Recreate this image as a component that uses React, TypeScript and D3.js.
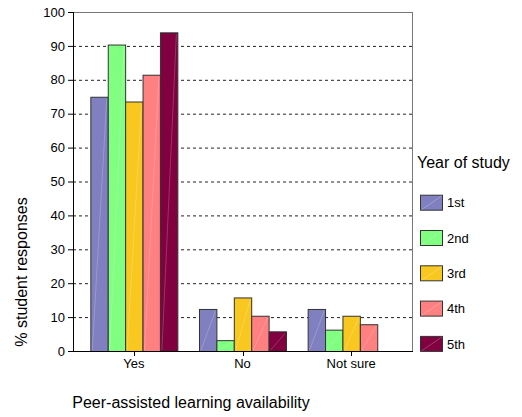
import React from "react";
import * as d3 from "d3";

const categories = ["Yes", "No", "Not sure"];
const years = ["1st", "2nd", "3rd", "4th", "5th"];
const year1 = [75, 12.4, 12.4];
const year2 = [90.4, 3.2, 6.3];
const year3 = [73.6, 15.8, 10.4];
const year4 = [81.5, 10.4, 7.9];
const year5 = [94, 5.8, 0];
const series = [year1, year2, year3, year4, year5];
const colors = ["#8080C0", "#80FF80", "#F8C820", "#FF8080", "#800040"];
const yTicks = [0, 10, 20, 30, 40, 50, 60, 70, 80, 90, 100];

const W = 522;
const H = 417;
const left = 73;
const right = 412;
const top = 12;
const bottom = 351;
const font = "'Liberation Sans', Arial, sans-serif";

export default function App() {
  const y = d3.scaleLinear().domain([0, 100]).range([bottom, top]);
  const x = d3.scalePoint<string>().domain(categories).range([left, right]).padding(0.56);
  const groupW = 87;
  const xi = d3.scaleBand<number>().domain(d3.range(years.length)).range([0, groupW]).padding(0);
  const bw = xi.bandwidth();

  const legendY0 = 202.7;
  const legendStep = 35.3;

  return (
    <svg width={W} height={H} style={{ position: "absolute", left: 0, top: 0, background: "#fff" }} fontFamily={font}>
      {/* gridlines */}
      {yTicks.filter((t) => t > 0 && t < 100).map((t) => (
        <line key={"g" + t} x1={left} x2={right} y1={y(t) + 0.5} y2={y(t) + 0.5} stroke="#222" strokeDasharray="3,3" />
      ))}
      {/* frame top/right */}
      <line x1={left} x2={right} y1={top + 0.5} y2={top + 0.5} stroke="#777" />
      <line x1={right + 0.5} x2={right + 0.5} y1={top} y2={bottom} stroke="#777" />
      {/* bars */}
      {categories.map((c, ci) =>
        series.map((s, si) => {
          const v = s[ci];
          if (v <= 0) return null;
          const bx = (x(c) as number) - groupW / 2 + (xi(si) as number);
          const by = y(v);
          const h = bottom - by;
          return (
            <g key={c + si}>
              <rect x={bx + 0.5} y={by + 0.5} width={bw} height={h} fill={colors[si]} stroke="#333" strokeWidth={1} />
              <line x1={bx + 2} y1={bottom - 1} x2={bx + bw - 1} y2={by + 2} stroke="#fff" strokeOpacity={0.25} strokeWidth={0.8} />
            </g>
          );
        })
      )}
      {/* y axis */}
      <line x1={left + 0.5} x2={left + 0.5} y1={top} y2={bottom + 1} stroke="#000" />
      {yTicks.map((t) => (
        <g key={"t" + t}>
          <line x1={left - 5} x2={left} y1={y(t) + 0.5} y2={y(t) + 0.5} stroke="#000" />
          <text x={65} y={y(t)} dy="0.36em" textAnchor="end" fontSize={13} fill="#000">
            {t}
          </text>
        </g>
      ))}
      {/* x axis */}
      <line x1={left} x2={right + 1} y1={bottom + 0.5} y2={bottom + 0.5} stroke="#000" />
      {categories.map((c) => (
        <g key={"c" + c}>
          <line x1={Math.round(x(c) as number) + 0.5} x2={Math.round(x(c) as number) + 0.5} y1={bottom} y2={bottom + 5} stroke="#000" />
          <text x={x(c) as number} y={363} dy="0.36em" textAnchor="middle" fontSize={13} fill="#000">
            {c}
          </text>
        </g>
      ))}
      {/* axis titles */}
      <text transform={`translate(21,272) rotate(-90)`} textAnchor="middle" dy="0.36em" fontSize={16} fill="#000">
        % student responses
      </text>
      <text x={191} y={402} dy="0.36em" textAnchor="middle" fontSize={16} fill="#000">
        Peer-assisted learning availability
      </text>
      {/* legend */}
      <text x={417} y={162} dy="0.36em" fontSize={16} fill="#000">
        Year of study
      </text>
      {years.map((yr, i) => {
        const cy = legendY0 + i * legendStep;
        return (
          <g key={yr}>
            <rect x={420.5} y={cy - 7.5} width={22} height={15} fill={colors[i]} stroke="#333" />
            <line x1={421.5} y1={cy + 7} x2={442} y2={cy - 7} stroke="#fff" strokeOpacity={0.3} strokeWidth={0.8} />
            <text x={447} y={cy} dy="0.36em" fontSize={13} fill="#000">
              {yr}
            </text>
          </g>
        );
      })}
    </svg>
  );
}
